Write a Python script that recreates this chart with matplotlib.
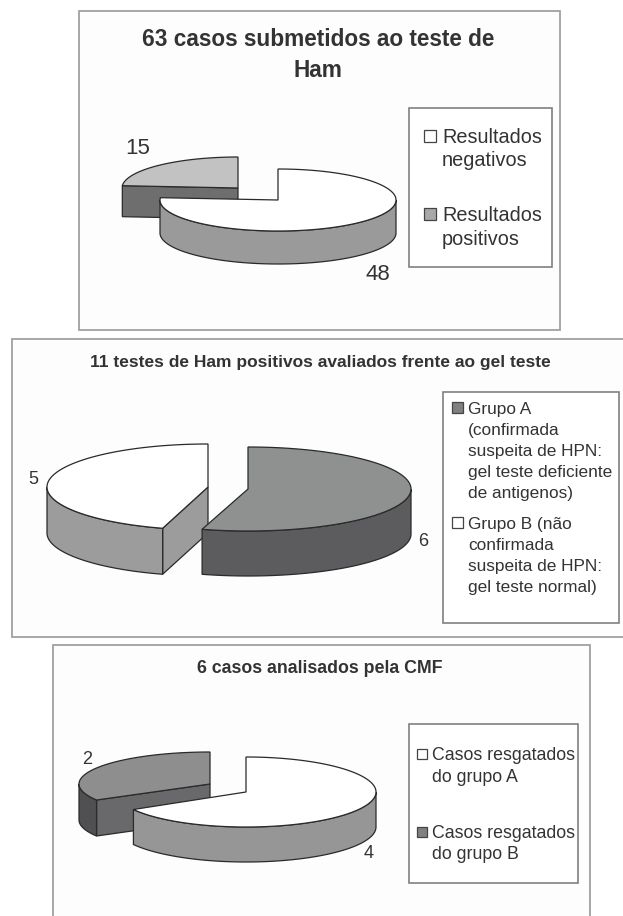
import numpy as np
import matplotlib
matplotlib.use('Agg')
import matplotlib.pyplot as plt
from matplotlib.patches import Polygon, Rectangle

plt.rcParams['font.family'] = ['Liberation Sans', 'DejaVu Sans']

# --- data ---
ham_values = [48, 15]
gel_values = [6, 5]
cmf_values = [4, 2]

ham_title = ['63 casos submetidos ao teste de', 'Ham']
gel_title = ['11 testes de Ham positivos avaliados frente ao gel teste']
cmf_title = ['6 casos analisados pela CMF']

ham_legend = [['Resultados', 'negativos'], ['Resultados', 'positivos']]
gel_legend = [['Grupo A', '(confirmada', 'suspeita de HPN:', 'gel teste deficiente', 'de antigenos)'],
              ['Grupo B (não', 'confirmada', 'suspeita de HPN:', 'gel teste normal)']]
cmf_legend = [['Casos resgatados', 'do grupo A'], ['Casos resgatados', 'do grupo B']]

# --- layout, in pixels of the page ---
WIDTH, HEIGHT = 623, 916
TEXT = '#333333'
EDGE = '#2a2a2a'
FRAME = '#a0a0a0'


def slice_points(cx, cy, rx, ry, t1, t2):
    # angles in degrees, clockwise from 12 o'clock
    t = np.radians(np.linspace(t1, t2, max(int(abs(t2 - t1)), 2)))
    return np.column_stack([cx + rx * np.sin(t), cy - ry * np.cos(t)])


def draw_slice(ax, cx, cy, rx, ry, depth, t1, t2, top, outer, wall):
    centre = np.array([cx, cy])
    down = np.array([0, depth])

    # radial cut at the start of the slice, seen only when it faces the front
    if 180 < t1 < 360:
        p = slice_points(cx, cy, rx, ry, t1, t1)[0]
        ax.add_patch(Polygon([centre, p, p + down, centre + down], closed=True,
                             fc=wall, ec=EDGE, lw=0.9, zorder=2))
    # radial cut at the end of the slice
    if 0 < t2 < 180:
        p = slice_points(cx, cy, rx, ry, t2, t2)[0]
        ax.add_patch(Polygon([centre, p, p + down, centre + down], closed=True,
                             fc=wall, ec=EDGE, lw=0.9, zorder=2))
    # outer rim, front half only
    a, b = max(t1, 90), min(t2, 270)
    if a < b:
        rim = slice_points(cx, cy, rx, ry, a, b)
        ax.add_patch(Polygon(np.vstack([rim, rim[::-1] + down]), closed=True,
                             fc=outer, ec=EDGE, lw=0.9, zorder=2))
    # top face
    arc = slice_points(cx, cy, rx, ry, t1, t2)
    ax.add_patch(Polygon(np.vstack([centre, arc]), closed=True,
                         fc=top, ec=EDGE, lw=0.9, zorder=2))


def draw_pie(ax, values, geometry, styles):
    fractions = np.cumsum([0] + list(values)) / sum(values) * 360
    # last slice first: it sits behind the others on the page
    for i in reversed(range(len(values))):
        cx, cy, rx, ry, depth = geometry[i]
        draw_slice(ax, cx, cy, rx, ry, depth, fractions[i], fractions[i + 1], *styles[i])


def draw_texts(ax, lines, x, baselines, size, **kw):
    for line, y in zip(lines, baselines):
        ax.text(x, y, line, fontsize=size, va='baseline', color=TEXT, **kw)


def draw_legend(ax, box, entries, marker_colors, text_x, baselines, marker_x, marker_size, size):
    x0, y0, x1, y1 = box
    ax.add_patch(Rectangle((x0, y0), x1 - x0, y1 - y0, fc='white', ec='#808080', lw=1.2, zorder=1))
    for lines, ys, color in zip(entries, baselines, marker_colors):
        draw_texts(ax, lines, text_x, ys, size)
        my = ys[0] - size / 0.72 * 0.36
        ax.add_patch(Rectangle((marker_x, my - marker_size / 2), marker_size, marker_size,
                               fc=color, ec='#444444', lw=0.9, zorder=3))


fig = plt.figure(figsize=(WIDTH / 100, HEIGHT / 100), dpi=100, facecolor='white')
ax = fig.add_axes([0, 0, 1, 1])
ax.set_xlim(0, WIDTH)
ax.set_ylim(HEIGHT, 0)
ax.axis('off')

# --- first panel ---
ax.add_patch(Rectangle((79, 11), 481, 319, fc='#fdfdfd', ec=FRAME, lw=1.3, zorder=0))
draw_pie(ax, ham_values,
         [(278, 200, 118, 31, 33), (238, 188, 116, 31, 31)],
         [('white', '#9a9a9a', '#9a9a9a'), ('#c2c2c2', '#6e6e6e', '#6e6e6e')])
draw_texts(ax, ham_title[:1], 318, [46], 16.3, ha='center', fontweight='bold')
draw_texts(ax, ham_title[1:], 318, [77], 16.3, ha='center', fontweight='bold')
draw_legend(ax, (409, 108, 552, 267), ham_legend, ['white', '#a8a8a8'], 442,
            [[143, 166], [221, 245]], 424, 12, 14.3)
ax.text(138, 148, str(ham_values[1]), fontsize=16, ha='center', va='center', color=TEXT)
ax.text(378, 275, str(ham_values[0]), fontsize=16, ha='center', va='center', color=TEXT)

# --- second panel ---
ax.add_patch(Rectangle((12, 339), 630, 298, fc='#fdfdfd', ec=FRAME, lw=1.3, zorder=0))
draw_pie(ax, gel_values,
         [(248, 489, 163, 42, 45), (208, 487, 161, 43, 46)],
         [('#8f9090', '#5c5c5e', '#5c5c5e'), ('white', '#9c9c9c', '#9c9c9c')])
draw_texts(ax, gel_title, 320, [367], 12.55, ha='center', fontweight='bold')
draw_legend(ax, (443, 392, 619, 623), gel_legend, ['#808080', 'white'], 468,
            [[414, 435, 456, 477, 498], [529, 550, 571, 592]], 452, 11, 12.4)
ax.text(423, 541, str(gel_values[0]), fontsize=13, ha='center', va='center', color=TEXT)
ax.text(33, 479, str(gel_values[1]), fontsize=13, ha='center', va='center', color=TEXT)

# --- third panel, cut by the bottom of the page ---
ax.add_patch(Rectangle((53, 645), 537, 300, fc='#fdfdfd', ec=FRAME, lw=1.3, zorder=0))
draw_pie(ax, cmf_values,
         [(246, 792, 130, 35, 35), (210, 784, 131, 32, 36)],
         [('white', '#969696', '#969696'), ('#8e8e8e', '#505052', '#69696b')])
draw_texts(ax, cmf_title, 320, [673], 12.8, ha='center', fontweight='bold')
draw_legend(ax, (409, 724, 578, 883), cmf_legend, ['white', '#808080'], 432,
            [[760, 782], [838, 859]], 417, 10, 12.8)
ax.text(369, 854, str(cmf_values[0]), fontsize=13, ha='center', va='center', color=TEXT)
ax.text(87, 760, str(cmf_values[1]), fontsize=13, ha='center', va='center', color=TEXT)

fig.savefig('out.png', dpi=100)
